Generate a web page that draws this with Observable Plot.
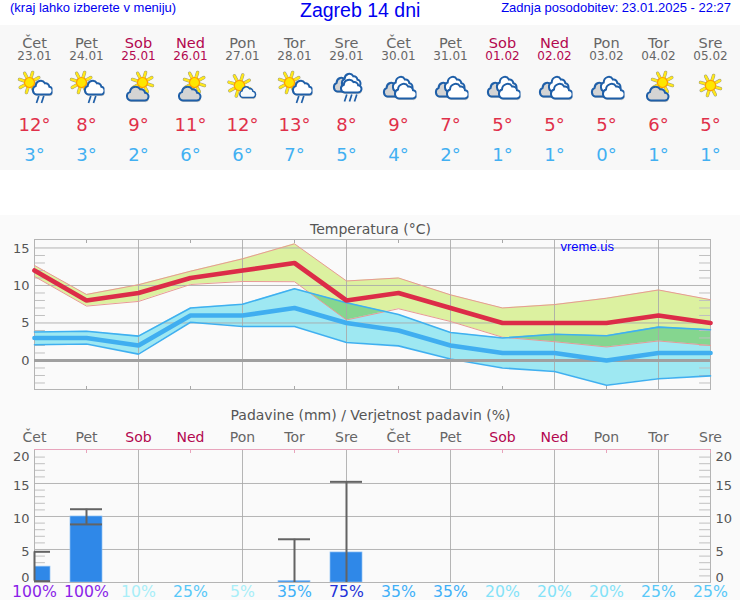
<!DOCTYPE html>
<html><head><meta charset="utf-8">
<script src="https://cdn.jsdelivr.net/npm/d3@7"></script>
<script src="https://cdn.jsdelivr.net/npm/@observablehq/plot@0.6"></script>
<style>
html,body{margin:0;padding:0;background:#fff}
#page{position:relative;width:740px;height:600px;overflow:hidden;background:#fff}
.hd{position:absolute;color:#0000f0;font-family:"Liberation Sans",Arial,sans-serif;white-space:nowrap}
.sec{position:absolute;left:0;width:740px}
.sec svg{display:block}
</style></head><body>
<div id="page">
<div class="hd" style="left:10px;top:0px;font-size:13px">(kraj lahko izberete v meniju)</div>
<div class="hd" style="left:300px;top:-1px;font-size:19.5px">Zagreb 14 dni</div>
<div class="hd" style="right:9px;top:0px;font-size:13px">Zadnja posodobitev: 23.01.2025 - 22:27</div>
<div class="sec" id="top" style="top:25px;height:145px;background:#f8f8f8"></div>
<div class="sec" id="temp" style="top:215px;height:185px;background:#fafafa"></div>
<div class="sec" id="rain" style="top:400px;height:200px;background:#fafafa"></div>
</div>
<script>
const dayNames = ["Čet","Pet","Sob","Ned","Pon","Tor","Sre","Čet","Pet","Sob","Ned","Pon","Tor","Sre"];
const dates = ["23.01","24.01","25.01","26.01","27.01","28.01","29.01","30.01","31.01","01.02","02.02","03.02","04.02","05.02"];
const iconKinds = ["A","A","B","B","C","A","D","E","E","E","E","E","B","F"];
const tempMax = [12,8,9,11,12,13,8,9,7,5,5,5,6,5];
const tempMin = [3,3,2,6,6,7,5,4,2,1,1,0,1,1];
const maxHigh = [12.67,8.8,10.1,11.9,13.55,15.55,10.6,11.0,8.75,7.0,7.45,8.3,9.4,8.1];
const maxLow = [11.2,7.25,7.87,10.13,10.53,10.5,5.4,6.9,5.2,3.1,2.5,1.8,2.6,2.0];
const minHigh = [3.8,3.9,3.25,7.0,7.5,9.55,7.7,6.13,3.73,3.0,3.5,3.3,4.45,4.1];
const minLow = [2.1,2.2,0.85,5.1,4.53,4.53,2.4,1.95,0.2,-1,-1.47,-3.3,-2.44,-2.05];
const rainBars = [2.4,10,0,0,0,0.2,4.55,0,0,0,0,0,0,0];
const rainHigh = [4.65,11.1,null,null,null,6.55,15.25,null,null,null,null,null,null,null];
const rainLow = [0.2,8.8,null,null,null,0,0,null,null,null,null,null,null,null];
const rainProb = [100,100,10,25,5,35,75,35,35,20,20,20,25,25];
const probColor = {100:"#8a1fe8",75:"#2232d8",35:"#3fb0f8",25:"#58c8f8",20:"#84e2f8",10:"#a8eef8",5:"#a8eef8"};

const idx = d3.range(dayNames.length);
const dayColor = i => (dayNames[i]==="Sob"||dayNames[i]==="Ned") ? "#b3074f" : "#666";
const FONT = "DejaVu Sans";
const xScale = {domain:[0,13], axis:null};
const base = {width:740, marginLeft:34, marginRight:30, x:xScale, color:{type:"identity"},
  style:{background:"transparent",fontFamily:FONT,overflow:"visible"}};

// icons
const rayPts = (cx,cy,r0,r1)=>d3.range(8).map(k=>{const a=k*Math.PI/4+0.3;return [cx+r0*Math.cos(a),cy+r0*Math.sin(a),cx+r1*Math.cos(a),cy+r1*Math.sin(a)];});
const sun = (cx,cy,r,R)=>{
  const rays = rayPts(cx,cy,r,R);
  return rays.map(p=>`<line x1="${p[0]}" y1="${p[1]}" x2="${p[2]}" y2="${p[3]}" stroke="#9a9a80" stroke-width="3.4" stroke-linecap="round"/>`).join("")
    + rays.map(p=>`<line x1="${p[0]}" y1="${p[1]}" x2="${p[2]}" y2="${p[3]}" stroke="#ffe81a" stroke-width="2.4" stroke-linecap="round"/>`).join("")
    + `<circle cx="${cx}" cy="${cy}" r="${r}" fill="#ffe600" stroke="#ff9d00" stroke-width="1.2"/>`;
};
const CLOUD = "M4.5 14a4.3 4.3 0 0 1-1-8.4a5.6 5.6 0 0 1 10.2-2.8a4 4 0 0 1 4.8 3.4a3.9 3.9 0 0 1-.8 7.8z";
const cloud = (x,y,w,h,fill,sw=2)=>{
  const t=`translate(${x} ${y}) scale(${w/22} ${h/14})`;
  return `<path d="${CLOUD}" transform="translate(${x+.5} ${y+1.6}) scale(${w/22} ${h/14})" fill="#a09a88" opacity=".45"/>`
   + `<path d="${CLOUD}" transform="${t}" fill="${fill}" stroke="#1f5fa8" stroke-width="${sw}" vector-effect="non-scaling-stroke"/>`;
};
const rain = (xs,y0,y1)=>xs.map(x=>`<line x1="${x+1.3}" y1="${y0}" x2="${x-1}" y2="${y1}" stroke="#1f5fa8" stroke-width="1.7"/>`).join("");
const iconParts = {
  A: sun(13,14,5,10.5)+cloud(16,12,20,14,"#fff")+rain([21,26],27.5,34.5),
  B: sun(22,14,5,10.5)+cloud(6,18,22,14,"#d4d4d4"),
  C: sun(15,17,5.2,11)+cloud(15,18,16,11,"#f4fafd",1.5),
  D: cloud(5,9,19,14,"#d4d4d4")+cloud(13,5,19,14,"#fff")+cloud(12,11,21,13,"#fff")+rain([17,22,27],26,33),
  E: cloud(3,14,19,14,"#d4d4d4")+cloud(12,8,20,15,"#fff")+cloud(14,15,22,15,"#fff"),
  F: sun(18,17,5.2,10.5)
};
const iconSrc = k => "data:image/svg+xml," + encodeURIComponent(`<svg xmlns="http://www.w3.org/2000/svg" width="36" height="36" viewBox="0 0 36 36">${iconParts[k]}</svg>`);

// top panel
const topRow = (text,dy,fontSize,fill)=>Plot.text(idx,{x:d=>d,text,frameAnchor:"top",dy,fontSize,fill,fontFamily:FONT,lineAnchor:"middle"});
document.getElementById("top").append(Plot.plot({...base,height:145,marginTop:0,marginBottom:0,marks:[
  topRow(d=>dayNames[d],18,14.5,dayColor),
  topRow(d=>dates[d],31,12,dayColor),
  Plot.image(idx,{x:d=>d,src:d=>iconSrc(iconKinds[d]),width:36,height:36,frameAnchor:"top",dy:61}),
  topRow(d=>tempMax[d]+"°",100,18,()=>"#e0304a"),
  topRow(d=>tempMin[d]+"°",130,18,()=>"#42b0f2")
]}));

// temperature chart
const minorT = d3.range(-3,16).filter(v=>v%5!==0);
const lineOf = (arr,stroke,strokeWidth)=>Plot.lineY(idx,{x:d=>d,y:d=>arr[d],stroke,strokeWidth,strokeLinejoin:"miter"});
const minorTicks = (vals,a,b,stroke)=>Plot.ruleY(vals,{x1:a,x2:b,stroke,strokeWidth:1});
document.getElementById("temp").append(Plot.plot({...base,height:185,marginTop:24,marginBottom:11,
  y:{domain:[-3.87,16.13],axis:null},
  marks:[
    Plot.areaY(idx,{x:d=>d,y1:d=>maxLow[d],y2:d=>maxHigh[d],fill:"#dcf1a0"}),
    Plot.areaY(idx,{x:d=>d,y1:d=>minLow[d],y2:d=>minHigh[d],fill:"#9ee8f2"}),
    Plot.areaY(idx,{x:d=>d,y1:d=>maxLow[d],y2:d=>maxHigh[d],fill:"#85d68f",
      render(I,s,v,dim,ctx,next){
        const g=next(I,s,v,dim,ctx);
        const clip=d3.create("svg:clipPath").attr("id","ovl");
        clip.append("path").attr("d",d3.area().x(d=>s.x(d)).y0(d=>s.y(minLow[d])).y1(d=>s.y(minHigh[d]))(idx));
        g.prepend(clip.node());
        g.setAttribute("clip-path","url(#ovl)");
        return g;
      }}),
    Plot.gridY({ticks:[5,10,15],stroke:"#a8a8a8",strokeOpacity:.85,strokeWidth:1}),
    Plot.gridX({ticks:[0,2,4,6,8,10,12],stroke:"#a8a8a8",strokeOpacity:.85,strokeWidth:1}),
    minorTicks(minorT,0,0.21,"#c0c0c0"),
    minorTicks(minorT,12.79,13,"#c0c0c0"),
    Plot.axisX({ticks:[1,3,5,7,9,11,13],anchor:"top",tickSize:-3,tickFormat:()=>"",stroke:"#a8a8a8",label:null}),
    Plot.axisX({ticks:[1,3,5,7,9,11,13],anchor:"bottom",tickSize:-3,tickFormat:()=>"",stroke:"#a8a8a8",label:null}),
    Plot.frame({stroke:"#b4b4b4"}),
    lineOf(maxHigh,"#e89a94",1),
    lineOf(maxLow,"#e89a94",1),
    lineOf(minHigh,"#3fb0f0",1.6),
    lineOf(minLow,"#3fb0f0",1.6),
    Plot.ruleY([0],{stroke:"#a0a0a0",strokeWidth:3}),
    lineOf(tempMin,"#40aef0",4.7),
    lineOf(tempMax,"#dc2c48",4.7),
    Plot.axisY({ticks:[0,5,10],anchor:"left",tickSize:0,tickPadding:5,fontSize:13,fill:"#555",label:null}),
    Plot.axisY({ticks:[15],anchor:"left",tickSize:0,tickPadding:5,fontSize:13,fill:"#555",label:null,dy:1}),
    Plot.text(["Temperatura (°C)"],{frameAnchor:"top",dy:-10,fontSize:14,fill:"#555",fontFamily:FONT,lineAnchor:"middle",dx:-2}),
    Plot.text(["vreme.us"],{frameAnchor:"top-left",dx:526,dy:2,fontSize:13,fill:"#0000ff",fontFamily:"Liberation Sans",lineAnchor:"top"})
  ]}));

// precipitation chart
const minorR = d3.range(1,20).filter(v=>v%5!==0);
const half = 16/52;
const errIdx = idx.filter(i=>rainHigh[i]!==null);
const barIdx = idx.filter(i=>rainBars[i]>0);
const rAxis = (anchor,ticks,dy)=>Plot.axisY({ticks,anchor,tickSize:0,tickPadding:5,fontSize:13,fill:"#555",label:null,dy});
document.getElementById("rain").append(Plot.plot({...base,height:200,marginTop:49,marginBottom:18,
  y:{domain:[0,20.15],axis:null},
  marks:[
    Plot.gridY({ticks:[5,10,15],stroke:"#a8a8a8",strokeOpacity:.85,strokeWidth:1}),
    Plot.gridX({ticks:[2,4,6,8,10,12],stroke:"#a8a8a8",strokeOpacity:.85,strokeWidth:1}),
    minorTicks(minorR,0,0.21,"#c0c0c0"),
    minorTicks(minorR,12.79,13,"#c0c0c0"),
    Plot.frame({stroke:"#b4b4b4"}),
    Plot.ruleY([20.15],{stroke:"#e8a4bc",strokeWidth:1}),
    Plot.axisX({ticks:[1,3,5,7,9,11,13],anchor:"top",tickSize:-3,tickFormat:()=>"",stroke:"#e8a4bc",label:null}),
    Plot.rectY(barIdx,{x1:d=>d-half,x2:d=>d+half,y1:0,y2:d=>rainBars[d],fill:"#2f88e8",stroke:"#8cc0f4",strokeWidth:.7,clip:true}),
    Plot.ruleX(errIdx,{x:d=>d,y1:d=>rainLow[d],y2:d=>rainHigh[d],stroke:"#636363",strokeWidth:2}),
    Plot.ruleY(errIdx,{y:d=>rainHigh[d],x1:d=>d-half,x2:d=>d+half,stroke:"#636363",strokeWidth:2,clip:true}),
    Plot.ruleY(errIdx,{y:d=>rainLow[d],x1:d=>d-half,x2:d=>d+half,stroke:"#636363",strokeWidth:2,clip:true,filter:d=>rainLow[d]>0}),
    rAxis("left",[5,10,15],2),rAxis("left",[20],6),rAxis("left",[0],-5),
    rAxis("right",[5,10,15],2),rAxis("right",[20],6),rAxis("right",[0],-5),
    Plot.text(["Padavine (mm) / Verjetnost padavin (%)"],{frameAnchor:"top",dy:-34,fontSize:14,fill:"#555",fontFamily:FONT,lineAnchor:"middle",dx:-2}),
    Plot.text(idx,{x:d=>d,text:d=>dayNames[d],frameAnchor:"top",dy:-12,fontSize:14,fill:dayColor,fontFamily:FONT,lineAnchor:"middle"}),
    Plot.text(idx,{x:d=>d,text:d=>rainProb[d]+"%",frameAnchor:"bottom",dy:9,fontSize:15.7,fill:d=>probColor[rainProb[d]],fontFamily:FONT,lineAnchor:"middle"})
  ]}));
</script>
</body></html>
